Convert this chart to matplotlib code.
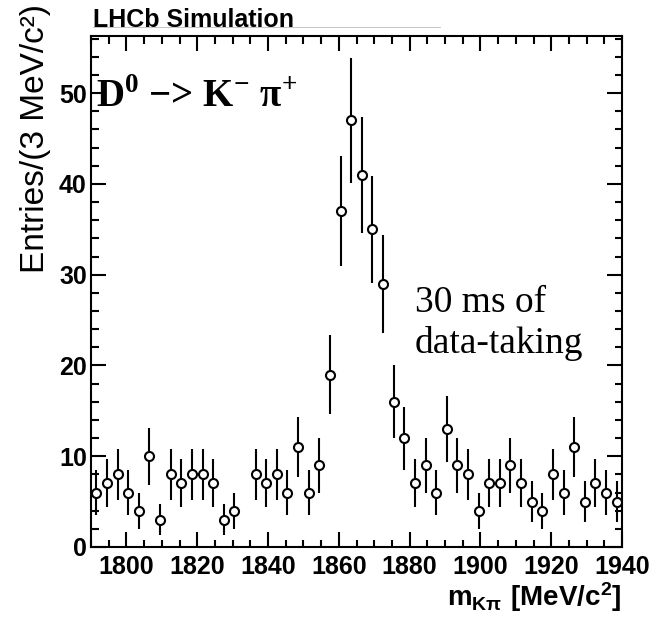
import numpy as np
import matplotlib
matplotlib.use("Agg")
import matplotlib.pyplot as plt
from matplotlib.ticker import MultipleLocator
from matplotlib.lines import Line2D

# D0 -> K- pi+ mass histogram, 3 MeV bins (bin centres and entries)
mass = [1791.5, 1794.5, 1797.5, 1800.5, 1803.5, 1806.5, 1809.5, 1812.5, 1815.5, 1818.5,
        1821.5, 1824.5, 1827.5, 1830.5, 1833.5, 1836.5, 1839.5, 1842.5, 1845.5, 1848.5,
        1851.5, 1854.5, 1857.5, 1860.5, 1863.5, 1866.5, 1869.5, 1872.5, 1875.5, 1878.5,
        1881.5, 1884.5, 1887.5, 1890.5, 1893.5, 1896.5, 1899.5, 1902.5, 1905.5, 1908.5,
        1911.5, 1914.5, 1917.5, 1920.5, 1923.5, 1926.5, 1929.5, 1932.5, 1935.5, 1938.5]
entries = [6, 7, 8, 6, 4, 10, 3, 8, 7, 8,
           8, 7, 3, 4, 0, 8, 7, 8, 6, 11,
           6, 9, 19, 37, 47, 41, 35, 29, 16, 12,
           7, 9, 6, 13, 9, 8, 4, 7, 7, 9,
           7, 5, 4, 8, 6, 11, 5, 7, 6, 5]

plt.rcParams['font.family'] = 'Liberation Sans'
plt.rcParams['mathtext.fontset'] = 'custom'
plt.rcParams['mathtext.rm'] = 'Liberation Serif:bold'
plt.rcParams['mathtext.bf'] = 'Liberation Serif:bold'
plt.rcParams['mathtext.sf'] = 'Liberation Sans:bold'

x = np.array(mass)
y = np.array(entries, dtype=float)
keep = y > 0   # empty bins are not drawn
x, y = x[keep], y[keep]
err = np.sqrt(y)

fig = plt.figure(figsize=(6.56, 6.17), dpi=100)
ax = fig.add_axes([91/656, 1 - 547/617, (622 - 91)/656, (547 - 36)/617])

ax.vlines(x, y - err, y + err, color='black', lw=1.5, zorder=2)
ax.plot(x, y, 'o', ms=6.5, mfc='white', mec='black', mew=1.5, zorder=3)

ax.set_xlim(1790, 1940)
ax.set_ylim(0, 56.3)
ax.xaxis.set_major_locator(MultipleLocator(20))
ax.xaxis.set_minor_locator(MultipleLocator(5))
ax.yaxis.set_major_locator(MultipleLocator(10))
ax.yaxis.set_minor_locator(MultipleLocator(2))
ax.tick_params(which='both', direction='in', top=True, right=True, width=1.5)
ax.tick_params(which='major', length=10.8)
ax.tick_params(which='minor', length=5.4)
ax.tick_params(axis='x', pad=6)
ax.tick_params(axis='y', pad=3)
for lab in ax.get_xticklabels() + ax.get_yticklabels():
    lab.set_fontsize(18)
    lab.set_fontweight('bold')
for s in ax.spines.values():
    s.set_linewidth(1.5)

# axis titles
fig.text(622/656, 1 - 606/617, r'$\mathsf{m_{K\pi}\ [MeV/c^{2}]}$',
         ha='right', va='baseline', fontsize=20)
fig.text(36/656, 1 - 4/617, 'Entries/(3 MeV/c²)', rotation=90,
         ha='center', va='top', fontsize=24)

# title box
fig.text(93/656, 1 - 27/617, 'LHCb Simulation', fontsize=18, fontweight='bold',
         ha='left', va='baseline')
fig.add_artist(Line2D([93/656, 440/656], [1 - 27/617, 1 - 27/617],
                      color='#bbbbbb', lw=0.6))

# annotations
ax.text(1791.5, 48.5, r'D$^{0}$ $-$> K$^{-}$ π$^{+}$', family='Liberation Serif',
        fontweight='bold', fontsize=28, ha='left', va='baseline')
ax.text(1881.5, 21.4, '30 ms of\ndata-taking', family='Liberation Serif',
        fontsize=27, ha='left', va='baseline', linespacing=1.2)

fig.savefig('out.png', dpi=100)
